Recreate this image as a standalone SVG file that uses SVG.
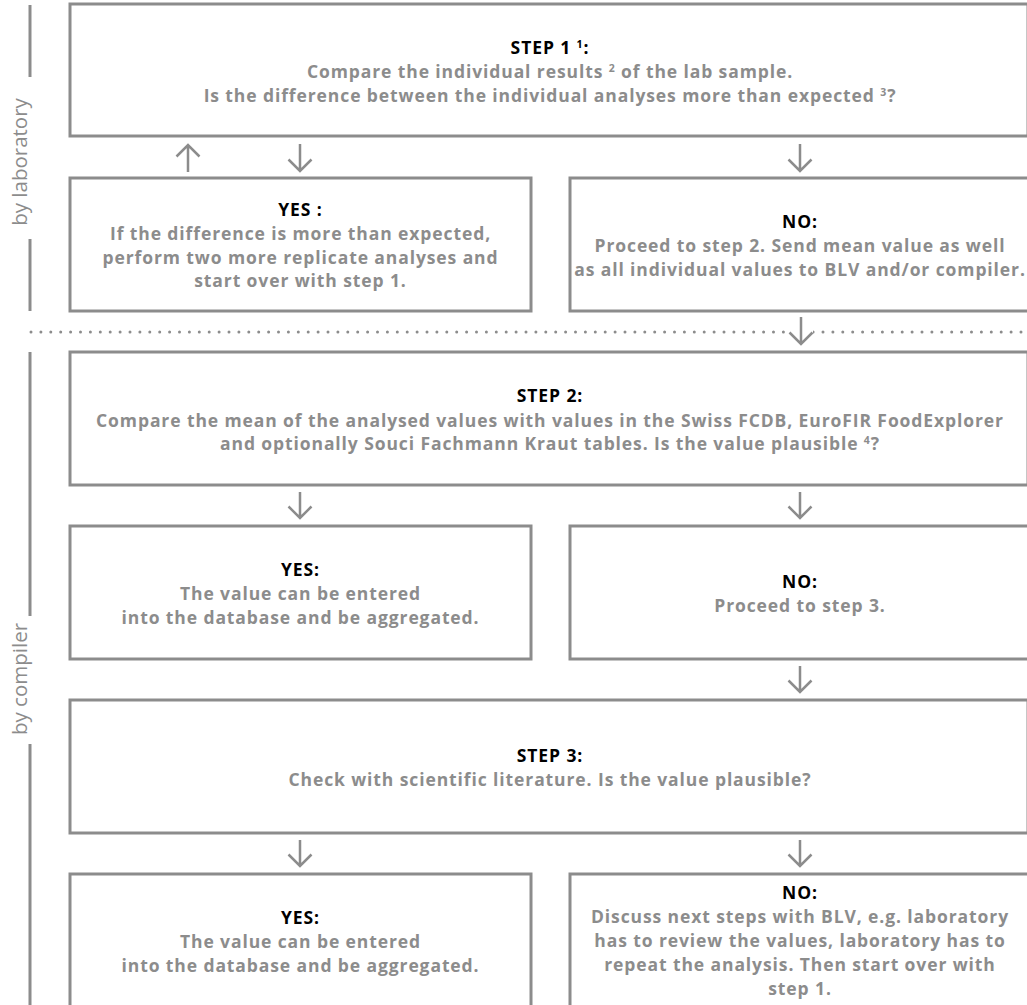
<svg xmlns="http://www.w3.org/2000/svg" width="1027" height="1005" viewBox="0 0 1027 1005">
<style>
.box{fill:#fff;stroke:#8c8c8c;stroke-width:3}
.t{font-family:"Open Sans","Liberation Sans",sans-serif;font-weight:700;font-size:17.5px;letter-spacing:0.9px;text-anchor:middle;fill:#8c8c8c}
.h{fill:#000}
.sup{font-size:10.5px}
.side{font-family:"Open Sans","Liberation Sans",sans-serif;font-weight:500;font-size:20.5px;text-anchor:middle;fill:#8c8c8c}
.ln{stroke:#8c8c8c;stroke-width:3;fill:none}
.arr{stroke:#8c8c8c;stroke-width:2.5;fill:none}
</style>
<rect width="1027" height="1005" fill="#fff"/>
<g id="lanes">
<line class="ln" x1="30" y1="5" x2="30" y2="77"/>
<text class="side" transform="translate(27,162) rotate(-90)">by laboratory</text>
<line class="ln" x1="30" y1="239" x2="30" y2="311"/>
<line class="ln" x1="30" y1="352" x2="30" y2="616"/>
<text class="side" transform="translate(27,679) rotate(-90)">by compiler</text>
<line class="ln" x1="30" y1="744" x2="30" y2="1005"/>
<line stroke="#8c8c8c" stroke-width="3" stroke-linecap="round" stroke-dasharray="0 9.9" x1="31" y1="332" x2="1027" y2="332"/>
<rect x="789" y="327" width="24" height="10" fill="#fff"/>
</g>
<g id="step1">
<rect class="box" x="70" y="4" width="958" height="132"/>
<text class="t"><tspan class="h" x="550" y="54">STEP 1 <tspan class="sup" dy="-6">1</tspan><tspan dy="6">:</tspan></tspan><tspan x="550" y="78">Compare the individual results <tspan class="sup" dy="-6">2</tspan><tspan dy="6"> of the lab sample.</tspan></tspan><tspan x="550" y="102">Is the difference between the individual analyses more than expected <tspan class="sup" dy="-6">3</tspan><tspan dy="6">?</tspan></tspan></text>
</g>
<g id="yes1">
<rect class="box" x="70" y="178" width="461" height="133"/>
<text class="t"><tspan class="h" x="300.5" y="216">YES :</tspan><tspan x="300.5" y="240">If the difference is more than expected,</tspan><tspan x="300.5" y="264">perform two more replicate analyses and</tspan><tspan x="300.5" y="287">start over with step 1.</tspan></text>
</g>
<g id="no1">
<rect class="box" x="570" y="178" width="460" height="133"/>
<text class="t"><tspan class="h" x="800" y="228">NO:</tspan><tspan x="800" y="252">Proceed to step 2. Send mean value as well</tspan><tspan x="800" y="276">as all individual values to BLV and/or compiler.</tspan></text>
</g>
<g id="step2">
<rect class="box" x="70" y="352" width="958" height="133"/>
<text class="t"><tspan class="h" x="550" y="402">STEP 2:</tspan><tspan x="550" y="427">Compare the mean of the analysed values with values in the Swiss FCDB, EuroFIR FoodExplorer</tspan><tspan x="550" y="450">and optionally Souci Fachmann Kraut tables. Is the value plausible <tspan class="sup" dy="-6">4</tspan><tspan dy="6">?</tspan></tspan></text>
</g>
<g id="yes2">
<rect class="box" x="70" y="526" width="461" height="133"/>
<text class="t"><tspan class="h" x="300.5" y="576">YES:</tspan><tspan x="300.5" y="600">The value can be entered</tspan><tspan x="300.5" y="624">into the database and be aggregated.</tspan></text>
</g>
<g id="no2">
<rect class="box" x="570" y="526" width="460" height="133"/>
<text class="t"><tspan class="h" x="800" y="588">NO:</tspan><tspan x="800" y="612">Proceed to step 3.</tspan></text>
</g>
<g id="step3">
<rect class="box" x="70" y="700" width="958" height="133"/>
<text class="t"><tspan class="h" x="550" y="762">STEP 3:</tspan><tspan x="550" y="786">Check with scientific literature. Is the value plausible?</tspan></text>
</g>
<g id="yes3">
<rect class="box" x="70" y="874" width="461" height="150"/>
<text class="t"><tspan class="h" x="300.5" y="924">YES:</tspan><tspan x="300.5" y="948">The value can be entered</tspan><tspan x="300.5" y="972">into the database and be aggregated.</tspan></text>
</g>
<g id="no3">
<rect class="box" x="570" y="874" width="460" height="150"/>
<text class="t"><tspan class="h" x="800" y="899">NO:</tspan><tspan x="800" y="923">Discuss next steps with BLV, e.g. laboratory</tspan><tspan x="800" y="947">has to review the values, laboratory has to</tspan><tspan x="800" y="971">repeat the analysis. Then start over with</tspan><tspan x="800" y="995">step 1.</tspan></text>
</g>
<g id="connectors">
<path class="arr" d="M188 172V145M176.5 156.5L188 145L199.5 156.5"/>
<path class="arr" d="M300 144V171M288.5 159.5L300 171L311.5 159.5"/>
<path class="arr" d="M800 144V171M788.5 159.5L800 171L811.5 159.5"/>
<path class="arr" d="M801 317V344M789.5 332.5L801 344L812.5 332.5"/>
<path class="arr" d="M300 492V518M288.5 506.5L300 518L311.5 506.5"/>
<path class="arr" d="M800 492V518M788.5 506.5L800 518L811.5 506.5"/>
<path class="arr" d="M800 666V692M788.5 680.5L800 692L811.5 680.5"/>
<path class="arr" d="M300 840V866M288.5 854.5L300 866L311.5 854.5"/>
<path class="arr" d="M800 840V866M788.5 854.5L800 866L811.5 854.5"/>
</g>
</svg>
